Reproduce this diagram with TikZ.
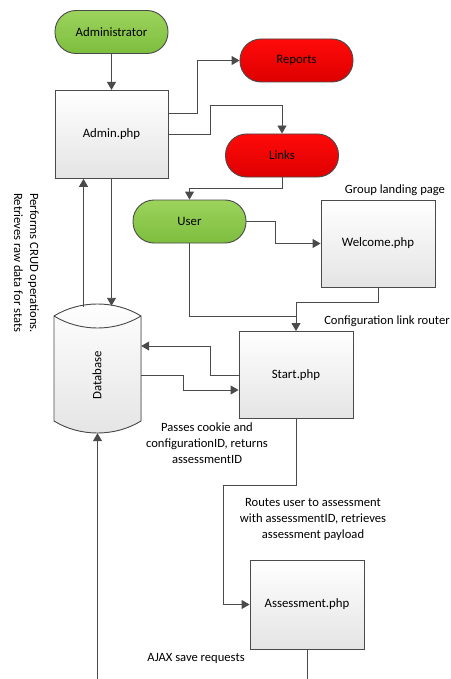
\documentclass[tikz,border=0pt]{standalone}
\usepackage{fontspec}
\setmainfont{Carlito}
\usepackage{tikz}
\usetikzlibrary{arrows.meta,positioning,calc}
\definecolor{FlowLine}{HTML}{4A4A4A}
\definecolor{ActorTop}{HTML}{9CD35C}
\definecolor{ActorBot}{HTML}{7DBE3E}
\definecolor{PageTop}{HTML}{FF0A0A}
\definecolor{PageBot}{HTML}{DE0000}
\definecolor{BoxBot}{HTML}{E4E4E4}

\begin{document}
\begin{tikzpicture}[x=1pt, y=-1pt, font=\fontsize{12.8}{15}\selectfont,
  terminal/.style={draw=FlowLine, line width=0.9pt, rounded corners=21pt,
    minimum width=113pt, minimum height=43pt, inner sep=0pt},
  actor/.style={terminal, top color=ActorTop, bottom color=ActorBot},
  target/.style={terminal, top color=PageTop, bottom color=PageBot},
  phpbox/.style={draw=FlowLine, line width=0.9pt, top color=white, bottom color=BoxBot,
    minimum width=114pt, minimum height=88pt, inner sep=0pt},
  flow/.style={draw=FlowLine, line width=0.9pt, -{Triangle[length=8pt,width=9pt]}},
  plain/.style={draw=FlowLine, line width=0.9pt},
  note/.style={align=center, font=\fontsize{12.6}{16}\selectfont, inner sep=0pt}]
  \useasboundingbox (0,0) rectangle (450,679);
  \node[actor] (admr) at (111.5,32) {Administrator};
  \node[phpbox, minimum width=113pt, below=36pt of admr] (admin) {Admin.php};
  \node[target] (reports) at (296.5,60.5) {Reports};
  \node[target] (links) at (282,155.5) {Links};
  \node[actor] (user) at (189.5,221.5) {User};
  \node[phpbox, minimum height=87pt] (welcome) at (378,243.5) {Welcome.php};
  \node[phpbox, minimum height=87pt] (start) at (296,375) {Start.php};
  \node[phpbox, minimum height=89pt] (assess) at (307,604.5) {Assessment.php};
  % database cylinder
  \node[minimum width=87pt, minimum height=128pt, inner sep=0pt] (db) at (97.5,369) {};
  \fill[top color=white, bottom color=BoxBot]
    (54,316) .. controls (80,300) and (115,300) .. (141,316) -- (141,421)
    .. controls (115,437) and (80,437) .. (54,421) -- cycle;
  \draw[FlowLine, line width=0.9pt]
    (54,316) .. controls (80,300) and (115,300) .. (141,316) -- (141,421)
    .. controls (115,437) and (80,437) .. (54,421) -- cycle;
  \draw[FlowLine, line width=0.9pt] (54,316) .. controls (80,332) and (115,332) .. (141,316);
  \node[rotate=90] (dblabel) at (97,375) {Database};
  % connectors
  \coordinate (ajaxout) at (307,679);
  \coordinate (ajaxin) at (97.5,679);
  \draw[flow] (admr) -- (admin);
  \draw[flow] ([yshift=21pt]admin.east) -- ++(29,0) |- (reports.west);
  \draw[flow] (admin.east) -- ++(42,0) -- ++(0,-29) -| (links.north);
  \draw[flow] (links.south) -- ++(0,11) -| (user.north);
  \draw[flow] (user.east) -- ++(29,0) |- (welcome.west);
  \draw[flow] (welcome.south) -- ++(0,15) -| (start.north);
  \draw[plain] (user.south) |- ([yshift=15pt]start.north);
  \draw[flow] (admin.south) -- ([yshift=-1pt]admin.south |- db.north);
  \draw[flow] ([xshift=-28pt,yshift=-2pt]admin.south |- db.north) -- ([xshift=-28pt]admin.south);
  \draw[flow] (start.west) -- ++(-28,0) |- ([yshift=23pt]db.east);
  \draw[flow] ([yshift=-6pt]db.east) -- ++(42,0) |- ([yshift=-15pt]start.west);
  \draw[flow] (start.south) -- ++(0,66) -| ([xshift=-26pt]assess.west) -- (assess.west);
  \draw[plain] (assess.south) -- (ajaxout);
  \draw[flow] (ajaxin) -- (db.south);
  % labels
  \node[note] (landing) at (395,190) {Group landing page};
  \node[note] (router) at (387,321) {Configuration link router};
  \node[note] (cookie) at (207,443) {Passes cookie and\\configurationID, returns\\assessmentID};
  \node[note] (routes) at (313,519) {Routes user to assessment\\with assessmentID, retrieves\\assessment payload};
  \node[note] (ajax) at (196,658) {AJAX save requests};
  \node[note, align=left, rotate=-90, anchor=north west] (crud) at (39,193)
    {Performs CRUD operations.\\Retrieves raw data for stats};
\end{tikzpicture}
\end{document}
